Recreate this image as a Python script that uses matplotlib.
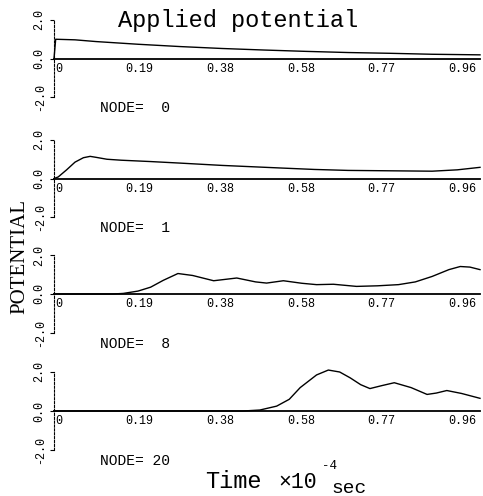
import matplotlib
matplotlib.use("Agg")
import matplotlib.pyplot as plt
from matplotlib.transforms import ScaledTranslation

# time axis in units of 1e-4 sec, potential values
t_applied = [0, 0.004, 0.05, 0.1, 0.2, 0.3, 0.4, 0.5, 0.6, 0.7, 0.8, 0.9, 1.014]
v_applied = [0, 1.0, 0.97, 0.88, 0.74, 0.62, 0.52, 0.44, 0.37, 0.31, 0.27, 0.22, 0.19]

t_node1 = [0, 0.01, 0.03, 0.05, 0.07, 0.086, 0.10, 0.126, 0.16, 0.23, 0.30, 0.40,
           0.545, 0.62, 0.70, 0.80, 0.90, 0.96, 1.014]
v_node1 = [0, 0.08, 0.45, 0.85, 1.08, 1.15, 1.1, 1.0, 0.95, 0.88, 0.8, 0.68,
           0.54, 0.47, 0.42, 0.4, 0.38, 0.45, 0.58]

t_node8 = [0, 0.14, 0.165, 0.2, 0.23, 0.26, 0.295, 0.33, 0.38, 0.435, 0.48, 0.506,
           0.546, 0.59, 0.625, 0.665, 0.72, 0.77, 0.82, 0.86, 0.90, 0.94, 0.967,
           0.99, 1.014]
v_node8 = [0, 0, 0.03, 0.15, 0.35, 0.7, 1.05, 0.95, 0.68, 0.82, 0.62, 0.56,
           0.68, 0.55, 0.48, 0.5, 0.39, 0.42, 0.48, 0.62, 0.9, 1.25, 1.41,
           1.38, 1.25]

t_node20 = [0, 0.45, 0.49, 0.53, 0.56, 0.586, 0.625, 0.653, 0.68, 0.705, 0.73,
            0.752, 0.78, 0.81, 0.85, 0.888, 0.91, 0.935, 0.97, 1.014]
v_node20 = [0, 0, 0.05, 0.25, 0.6, 1.2, 1.85, 2.1, 2.0, 1.7, 1.35,
            1.15, 1.3, 1.45, 1.2, 0.85, 0.92, 1.05, 0.9, 0.65]

nodes = [0, 1, 8, 20]
x_ticks = [0, 0.192, 0.384, 0.576, 0.768, 0.96]
x_tick_labels = ["0", "0.19", "0.38", "0.58", "0.77", "0.96"]
y_ticks = [-2.0, 0.0, 2.0]
y_tick_labels = ["-2.0", "0.0", "2.0"]

series = [(t_applied, v_applied), (t_node1, v_node1),
          (t_node8, v_node8), (t_node20, v_node20)]

W, H = 483, 496
fig = plt.figure(figsize=(W / 100, H / 100), dpi=100)
mono = "Liberation Mono"

# pixel rows of the +2.0 and -2.0 ticks for each panel
panel_rows = [(20, 97), (140, 217), (255, 333), (372, 450)]
ax_left, ax_right = 54, 480

label_shift = ScaledTranslation(5 / 100, 0, fig.dpi_scale_trans)

for (t, v), node, (top, bot) in zip(series, nodes, panel_rows):
    ax = fig.add_axes([ax_left / W, 1 - bot / H, (ax_right - ax_left) / W, (bot - top) / H])
    ax.patch.set_alpha(0)
    ax.plot(t, v, color="black", lw=1.0, clip_on=False)
    ax.set_xlim(0, 1.014)
    ax.set_ylim(-2, 2)

    ax.spines["top"].set_visible(False)
    ax.spines["right"].set_visible(False)
    ax.spines["bottom"].set_position(("data", 0))
    ax.spines["bottom"].set_linewidth(1.3)
    ax.spines["left"].set_linestyle((0, (2, 1.5)))
    ax.spines["left"].set_linewidth(0.8)

    ax.set_xticks(x_ticks)
    ax.set_xticklabels(x_tick_labels, fontfamily=mono, fontsize=8.5)
    ax.tick_params(axis="x", length=0, pad=3)
    for lab in ax.get_xticklabels():
        lab.set_transform(lab.get_transform() + label_shift)

    ax.set_yticks(y_ticks)
    ax.set_yticklabels(y_tick_labels, fontfamily=mono, fontsize=8.5,
                       rotation=90, va="center")
    ax.tick_params(axis="y", length=3, width=0.8, pad=3)

    ax.text(100 / W, 1 - (bot + 11) / H, "NODE= %2d" % node, transform=fig.transFigure,
            fontfamily=mono, fontsize=10.5, ha="left", va="center")

fig.text(238 / W, 1 - 27 / H, "Applied potential", fontfamily=mono, fontsize=17,
         ha="center", va="baseline")
fig.text(20 / W, 1 - 257 / H, "POTENTIAL", fontfamily="Liberation Serif", fontsize=15,
         rotation=90, ha="center", va="center")

fig.text(205 / W, 1 - 488 / H, "Time", fontfamily=mono, fontsize=17, va="baseline")
fig.text(278 / W, 1 - 488 / H, "×10", fontfamily=mono, fontsize=15.5, va="baseline")
fig.text(322 / W, 1 - 469 / H, "-4", fontfamily=mono, fontsize=9, va="baseline")
fig.text(331 / W, 1 - 493 / H, "sec", fontfamily=mono, fontsize=14, va="baseline")

fig.savefig("out.png", dpi=100)
